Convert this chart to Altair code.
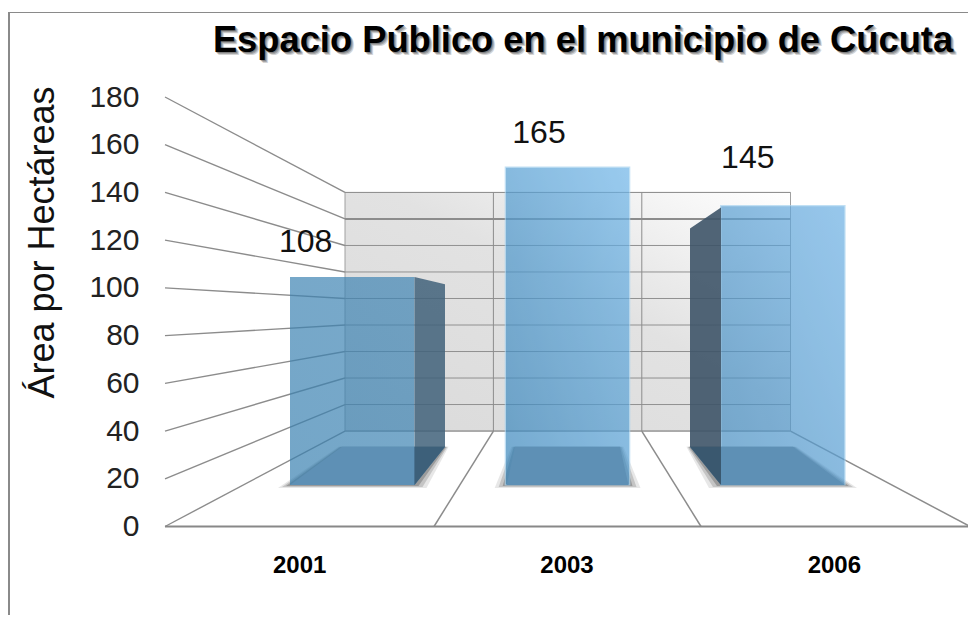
import altair as alt
import pandas as pd

# ---- chart values ----
years = ["2001", "2003", "2006"]
hectares = [108, 165, 145]
ticks = [0, 20, 40, 60, 80, 100, 120, 140, 160, 180]
TITLE = "Espacio Público en el municipio de Cúcuta"
YTITLE = "Área por Hectáreas"
FONT = "Liberation Sans"

# ---- scales shared by the layers (x in page pixels, y in axis units) ----
W, H = 960, 607
X_SCALE = alt.Scale(domain=[8, 968], range=[0, 960], nice=False, zero=False)
Y_SCALE = alt.Scale(domain=[0, 180], range=[518.5, 89], nice=False, zero=False)
BAR_Y = alt.Scale(domain=[0, 180], range=[477, 477 - 1.927 * 180], nice=False, zero=False)
BAR_X = alt.Scale(type="band", domain=years, range=[282, 837], paddingInner=0.4223, paddingOuter=0)
LABEL_X = alt.Scale(type="band", domain=years, range=[158, 960], paddingInner=0, paddingOuter=0)


def u(py):
    """page pixel row -> axis units"""
    return (526.5 - py) / (429.5 / 180)


def wall_v(v):
    return 40 + v * 100 / 180


def back_top(v):
    return u(446.7 - 1.505 * v)


FRONT_FLOOR, BACK_FLOOR = u(485), u(446.7)
FRONT_X = [165, 434, 701, 970]
BACK_X = [345, 493.4, 641.8, 790.5]


def X(f):
    return alt.X(f, type="quantitative", scale=X_SCALE, axis=None)


def X2(f):
    return alt.X2(f)


def Y(f):
    return alt.Y(f, type="quantitative", scale=Y_SCALE, axis=None)


def Y2(f):
    return alt.Y2(f)


layers = []

# frame
layers.append(
    alt.Chart(pd.DataFrame({"a": [0]})).mark_rule(color="#8a8a8a", strokeWidth=1).encode(
        x=alt.value(0), x2=alt.value(960), y=alt.value(4.5))
)
layers.append(
    alt.Chart(pd.DataFrame({"a": [0]})).mark_rule(color="#8a8a8a", strokeWidth=2).encode(
        x=alt.value(1), y=alt.value(4), y2=alt.value(607))
)

# back wall
wall = pd.DataFrame({"x": [BACK_X[0]], "x2": [BACK_X[-1]], "y": [wall_v(0)], "y2": [wall_v(180)]})
layers.append(
    alt.Chart(wall).mark_rect(
        color={"gradient": "linear", "x1": 0, "y1": 1, "x2": 1, "y2": 0,
               "stops": [{"offset": 0, "color": "#dadada"},
                         {"offset": 0.55, "color": "#e2e2e2"},
                         {"offset": 1, "color": "#ffffff"}]},
        stroke="#a0a0a0", strokeWidth=1,
    ).encode(x=X("x"), x2=X2("x2"), y=Y("y"), y2=Y2("y2"))
)

# wall horizontals and perspective lines from every tick
rows, pers = [], []
for t in ticks:
    rows.append({"x": BACK_X[0], "x2": BACK_X[-1], "y": wall_v(t), "y2": wall_v(t), "t": t})
    pers.append({"x": 165, "x2": BACK_X[0], "y": t, "y2": wall_v(t)})
layers.append(
    alt.Chart(pd.DataFrame([r for r in rows if r["t"] != 160])).mark_rule(color="#909090", strokeWidth=1).encode(
        x=X("x"), x2=X2("x2"), y=Y("y"), y2=Y2("y2"))
)
layers.append(
    alt.Chart(pd.DataFrame([r for r in rows if r["t"] == 160])).mark_rule(color="#8c8c8c", strokeWidth=2).encode(
        x=X("x"), x2=X2("x2"), y=Y("y"), y2=Y2("y2"))
)
layers.append(
    alt.Chart(pd.DataFrame(pers)).mark_rule(color="#8c8c8c", strokeWidth=1.4).encode(
        x=X("x"), x2=X2("x2"), y=Y("y"), y2=Y2("y2"))
)

# wall dividers
div = pd.DataFrame({"x": BACK_X[1:3], "x2": BACK_X[1:3], "y": [wall_v(0)] * 2, "y2": [wall_v(180)] * 2})
layers.append(
    alt.Chart(div).mark_rule(color="#8c8c8c", strokeWidth=1).encode(x=X("x"), x2=X2("x2"), y=Y("y"), y2=Y2("y2"))
)

# floor
floor = pd.DataFrame({"x": FRONT_X, "x2": BACK_X, "y": [0] * 4, "y2": [40] * 4})
layers.append(
    alt.Chart(floor.iloc[1:]).mark_rule(color="#8c8c8c", strokeWidth=1.5).encode(
        x=X("x"), x2=X2("x2"), y=Y("y"), y2=Y2("y2"))
)
layers.append(
    alt.Chart(pd.DataFrame({"x": [165], "x2": [970], "y": [0]})).mark_rule(color="#888888", strokeWidth=2).encode(
        x=X("x"), x2=X2("x2"), y=Y("y"))
)

# floor patches [front left, front right, back left, back right]
PATCHES = {
    "2001": (290, 414.5, 342, 445),
    "2003": (506.7, 628.5, 515, 620),
    "2006": (690 + 31, 845, 690, 793),
}


def patch_rows(expand=0.0):
    out = []
    for k, (fl, fr, bl, br) in PATCHES.items():
        out.append({"k": k, "y": u(485 + expand * 0.25), "x": fl - expand, "x2": fr + expand})
        out.append({"k": k, "y": BACK_FLOOR, "x": bl - expand * 0.3, "x2": br + expand * 0.3})
    return pd.DataFrame(out)


for d, op in [(12, 0.12), (8, 0.2), (4, 0.3)]:
    layers.append(
        alt.Chart(patch_rows(d)).mark_area(orient="horizontal", color="#3a3a3a", opacity=op).encode(
            y=Y("y"), x=X("x"), x2=X2("x2"), detail="k:N")
    )

# front faces
bars = pd.DataFrame({"year": years, "value": hectares})
GRAD = {
    "2001": ("#3880b0", "#4085b4", None),
    "2003": ("#3985ba", "#6fb5e8", "#a8d4f0"),
    "2006": ("#458cbf", "#6cb0e4", "#a8d4f0"),
}
for yr in years:
    lo, hi, edge = GRAD[yr]
    kw = {"stroke": edge, "strokeWidth": 1.2} if edge else {}
    layers.append(
        alt.Chart(bars[bars.year == yr]).mark_bar(
            color={"gradient": "linear", "x1": 0, "y1": 1, "x2": 1, "y2": 0,
                   "stops": [{"offset": 0, "color": lo}, {"offset": 1, "color": hi}]},
            opacity=0.7, **kw,
        ).encode(
            x=alt.X("year:N", scale=BAR_X, axis=None),
            y=alt.Y("value:Q", scale=BAR_Y, axis=None),
        )
    )

# floor patches on top of the faces
layers.append(
    alt.Chart(patch_rows(0)).mark_area(orient="horizontal", color="#5e90b5").encode(
        y=Y("y"), x=X("x"), x2=X2("x2"), detail="k:N")
)

# side faces
side = pd.DataFrame([
    {"k": "2001", "x": 414.5, "y": u(485 - 1.927 * 108), "y2": FRONT_FLOOR},
    {"k": "2001", "x": 445, "y": back_top(108), "y2": BACK_FLOOR},
])
layers.append(
    alt.Chart(side).mark_area(color="#41617a", opacity=0.85).encode(
        x=X("x"), y=Y("y"), y2=Y2("y2"), detail="k:N")
)
side6 = pd.DataFrame([
    {"k": "2006", "x": 690, "y": back_top(145), "y2": BACK_FLOOR},
    {"k": "2006", "x": 721, "y": u(485 - 1.927 * 145 + 2), "y2": FRONT_FLOOR},
])
layers.append(
    alt.Chart(side6).mark_area(color="#3e5468", opacity=0.9).encode(
        x=X("x"), y=Y("y"), y2=Y2("y2"), detail="k:N")
)
tri = pd.DataFrame([
    {"k": "a", "x": 414.5, "y": BACK_FLOOR, "y2": FRONT_FLOOR},
    {"k": "a", "x": 445, "y": BACK_FLOOR, "y2": BACK_FLOOR},
    {"k": "b", "x": 690, "y": BACK_FLOOR, "y2": BACK_FLOOR},
    {"k": "b", "x": 721, "y": BACK_FLOOR, "y2": FRONT_FLOOR},
])
layers.append(
    alt.Chart(tri).mark_area(color="#33566f", opacity=0.45).encode(
        x=X("x"), y=Y("y"), y2=Y2("y2"), detail="k:N")
)

# value labels, each with its own offset from the bar top
OFFSETS = {"2001": (-46.5, -35), "2003": (-28.5, -34), "2006": (-35, -48)}
for yr in years:
    dx, dy = OFFSETS[yr]
    layers.append(
        alt.Chart(bars[bars.year == yr]).mark_text(
            font=FONT, fontSize=32, color="#111111", dx=dx, dy=dy,
            align="center", baseline="middle",
        ).encode(
            x=alt.X("year:N", scale=BAR_X, axis=None),
            y=alt.Y("value:Q", scale=BAR_Y, axis=None),
            text="value:Q",
        )
    )

# axes
axis_data = pd.DataFrame({"year": (years * 4)[:len(ticks)], "value": ticks})
layers.append(
    alt.Chart(axis_data).mark_point(opacity=0).encode(
        x=alt.X("year:N", scale=LABEL_X,
                axis=alt.Axis(title=None, orient="bottom", offset=-80.5, domain=False, ticks=False,
                              labelAngle=0, labelFont=FONT, labelFontWeight="bold", labelFontSize=24,
                              labelColor="#000000", labelPadding=19, labelBaseline="top", grid=False)),
        y=alt.Y("value:Q", scale=Y_SCALE,
                axis=alt.Axis(title=YTITLE, orient="left", offset=-131, values=ticks, domain=False,
                              ticks=False, grid=False, labelFont=FONT, labelFontSize=30,
                              labelColor="#222222", labelPadding=0, titleFont=FONT, titleFontSize=36,
                              titleFontWeight="normal", titleColor="#111111", titleAngle=270,
                              titleX=-85.5, titleY=234, titleAlign="center",
                              titleBaseline="alphabetic")),
    )
)

# chart title with its soft shadow
for ox, oy, col, op in [(3, 3, "#555555", 0.25), (2, 2, "#555555", 0.35), (1, 1, "#555555", 0.45), (0, 0, "#000000", 1)]:
    layers.append(
        alt.Chart(pd.DataFrame({"t": [TITLE]})).mark_text(
            font=FONT, fontWeight="bold", fontSize=36.3, color=col, opacity=op, align="center",
            baseline="alphabetic",
        ).encode(x=alt.value(575 + ox), y=alt.value(44 + oy), text="t:N")
    )

chart = (
    alt.layer(*layers)
    .resolve_scale(x="independent", y="independent")
    .resolve_axis(x="independent", y="independent")
    .properties(width=W, height=H, padding=0, autosize=alt.AutoSizeParams(type="none"),
                background="#ffffff")
    .configure_view(stroke=None)
)
chart.save("out.html", embed_options={"renderer": "svg", "actions": False})
